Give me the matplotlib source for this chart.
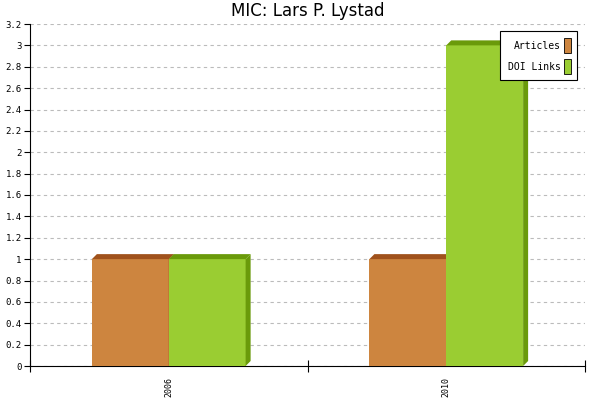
import matplotlib.pyplot as plt
from matplotlib.patches import Polygon, Rectangle
import numpy as np

years = ['2006', '2010']
articles = [1, 1]
doi_links = [1, 3]
series = [('Articles', articles, '#cd853f', '#a0521c'),
          ('DOI Links', doi_links, '#9acd32', '#6a9a0a')]

fig = plt.figure(figsize=(6, 4), dpi=100)
ax = fig.add_axes([0.05, 0.085, 0.925, 0.855])
ax.set_xlim(0, 2)
ax.set_ylim(0, 3.2)

w = 0.277
dx = 5 / 277.5
dy = 5 / 342 * 3.2
for i, yr in enumerate(years):
    c = i + 0.5
    for j, (name, vals, col, dark) in enumerate(series):
        x0 = c - w + j * w
        v = vals[i]
        ax.add_patch(Rectangle((x0, 0), w, v, facecolor=col, edgecolor='none', zorder=3))
        ax.add_patch(Polygon([(x0, v), (x0 + dx, v + dy), (x0 + w + dx, v + dy), (x0 + w, v)],
                             facecolor=dark, edgecolor='none', zorder=3))
        ax.add_patch(Polygon([(x0 + w, 0), (x0 + w + dx, dy), (x0 + w + dx, v + dy), (x0 + w, v)],
                             facecolor=dark, edgecolor='none', zorder=3))

yt = np.round(np.arange(0, 3.21, 0.2), 1)
ax.set_yticks(yt)
ax.set_yticklabels([('%g' % t) for t in yt], fontsize=6.5, family='DejaVu Sans Mono')
ax.yaxis.grid(True, linestyle=(0, (3, 3)), color='#bbbbbb', linewidth=0.8, zorder=0)
ax.set_xticks([0, 1, 2])
ax.set_xticklabels([])
ax.set_xticks([0.5, 1.5], minor=True)
ax.set_xticklabels(years, minor=True, rotation=90, fontsize=6, family='DejaVu Sans Mono')
ax.tick_params(axis='x', which='minor', length=0, pad=8)
ax.tick_params(axis='x', which='major', direction='inout', length=8)
ax.tick_params(axis='y', length=4, pad=2)
for s in ['top', 'right']:
    ax.spines[s].set_visible(False)
ax.set_title('MIC: Lars P. Lystad', fontsize=12, pad=6)

# legend
lx0, ly0, lw, lh = 0.847, 0.835, 0.138, 0.145
ax.add_patch(Rectangle((lx0, ly0), lw, lh, transform=ax.transAxes, facecolor='white',
                       edgecolor='black', linewidth=0.8, zorder=5))
for j, (name, vals, col, dark) in enumerate(series):
    yy = ly0 + lh * (0.7 - 0.42 * j)
    ax.text(lx0 + lw - 0.028, yy, name, transform=ax.transAxes, ha='right', va='center',
            fontsize=7, family='DejaVu Sans Mono', zorder=6)
    ax.add_patch(Rectangle((lx0 + lw - 0.022, yy - 0.022), 0.012, 0.044, transform=ax.transAxes,
                           facecolor=col, edgecolor='black', linewidth=0.6, zorder=6))

fig.savefig('out.png')
